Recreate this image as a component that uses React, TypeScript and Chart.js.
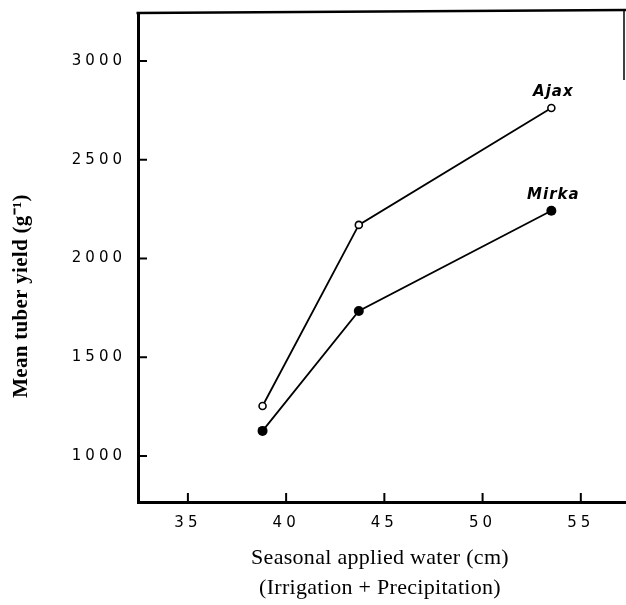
import { useEffect, useRef } from 'react';
import { Chart, registerables } from 'chart.js';

Chart.register(...registerables);

const waterCm = [38.8, 43.7, 53.5];
const ajaxYield = [1253, 2170, 2762];
const mirkaYield = [1127, 1734, 2242];
const xTicks = [35, 40, 45, 50, 55];
const yTicks = [1000, 1500, 2000, 2500, 3000];
const seriesNames = ['Ajax', 'Mirka'];
const xTitle = ['Seasonal applied water (cm)', '(Irrigation + Precipitation)'];
const yTitle = 'Mean tuber yield (g\u207B\u00B9)';

const spacingPlugin = {
  id: 'spacing',
  beforeDraw(chart: any) {
    chart.ctx.letterSpacing = '4px';
  },
  beforeDatasetsDraw(chart: any) {
    chart.ctx.letterSpacing = '0px';
  },
};

const decorPlugin = {
  id: 'decor',
  afterDraw(chart: any) {
    const ctx = chart.ctx;
    const { left, right, top, bottom } = chart.chartArea;
    const xs = chart.scales.x;
    const ys = chart.scales.y;
    ctx.save();
    ctx.letterSpacing = '0px';
    ctx.strokeStyle = '#000';
    ctx.lineCap = 'butt';
    // top frame
    ctx.lineWidth = 2.5;
    ctx.beginPath();
    ctx.moveTo(left - 1.5, top);
    ctx.lineTo(right, top - 3);
    ctx.stroke();
    // partial right frame
    ctx.lineWidth = 1.5;
    ctx.beginPath();
    ctx.moveTo(right - 2, top - 3);
    ctx.lineTo(right - 2, top + 67);
    ctx.stroke();
    // inward ticks
    ctx.lineWidth = 2;
    yTicks.forEach((v) => {
      const y = ys.getPixelForValue(v);
      ctx.beginPath();
      ctx.moveTo(left, y);
      ctx.lineTo(left + 9, y);
      ctx.stroke();
    });
    xTicks.forEach((v) => {
      const x = xs.getPixelForValue(v);
      ctx.beginPath();
      ctx.moveTo(x, bottom);
      ctx.lineTo(x, bottom - 9);
      ctx.stroke();
    });
    // series labels
    ctx.fillStyle = '#000';
    ctx.font = 'italic bold 15px "DejaVu Sans"';
    ctx.letterSpacing = '1px';
    ctx.textAlign = 'center';
    ctx.textBaseline = 'alphabetic';
    chart.data.datasets.forEach((ds: any, i: number) => {
      const meta = chart.getDatasetMeta(i);
      const el = meta.data[meta.data.length - 1];
      ctx.fillText(seriesNames[i], el.x + 2, el.y - 12);
    });
    // x title
    ctx.font = '22px "Liberation Serif"';
    ctx.letterSpacing = '0.3px';
    ctx.textBaseline = 'middle';
    const cx = (left + right) / 2 - 2;
    ctx.fillText(xTitle[0], cx, bottom + 56);
    ctx.fillText(xTitle[1], cx, bottom + 86);
    // y title
    ctx.font = 'bold 21px "Liberation Serif"';
    ctx.letterSpacing = '0.3px';
    ctx.translate(22, 296);
    ctx.rotate(-Math.PI / 2);
    ctx.fillText(yTitle, 0, 0);
    ctx.restore();
  },
};

export default function App() {
  const ref = useRef<HTMLCanvasElement | null>(null);
  useEffect(() => {
    const canvas = ref.current;
    if (!canvas) return;
    const chart = new Chart(canvas, {
      type: 'line',
      data: {
        datasets: [
          {
            label: seriesNames[0],
            data: waterCm.map((x, i) => ({ x, y: ajaxYield[i] })),
            borderColor: '#000',
            borderWidth: 1.8,
            pointRadius: 3.5,
            pointBorderWidth: 1.6,
            pointBackgroundColor: '#fff',
            pointBorderColor: '#000',
            tension: 0,
          },
          {
            label: seriesNames[1],
            data: waterCm.map((x, i) => ({ x, y: mirkaYield[i] })),
            borderColor: '#000',
            borderWidth: 1.8,
            pointRadius: 5,
            pointBorderWidth: 0,
            pointBackgroundColor: '#000',
            pointBorderColor: '#000',
            tension: 0,
          },
        ],
      },
      options: {
        animation: false,
        responsive: false,
        maintainAspectRatio: false,
        layout: { autoPadding: false, padding: { top: 13, right: 0, left: 0, bottom: 0 } },
        plugins: { legend: { display: false }, tooltip: { enabled: false } },
        scales: {
          x: {
            type: 'linear',
            min: 32.46,
            max: 57.3,
            afterBuildTicks: (s: any) => {
              s.ticks = xTicks.map((v) => ({ value: v }));
            },
            afterFit: (s: any) => {
              s.height = 103;
              s.paddingLeft = 0;
              s.paddingRight = 0;
            },
            grid: { display: true, drawOnChartArea: false, drawTicks: false },
            border: { display: true, color: '#000', width: 3 },
            ticks: {
              color: '#000',
              padding: 12,
              font: { family: '"DejaVu Sans"', size: 15 },
              maxRotation: 0,
              callback: (v: any) => String(v),
            },
          },
          y: {
            type: 'linear',
            min: 767,
            max: 3243,
            afterBuildTicks: (s: any) => {
              s.ticks = yTicks.map((v) => ({ value: v }));
            },
            afterFit: (s: any) => {
              s.width = 138;
              s.paddingTop = 0;
              s.paddingBottom = 0;
            },
            grid: { display: true, drawOnChartArea: false, drawTicks: false },
            border: { display: true, color: '#000', width: 3 },
            ticks: {
              color: '#000',
              padding: 12,
              font: { family: '"DejaVu Sans"', size: 15 },
              callback: (v: any) => String(v),
            },
          },
        },
      },
      plugins: [spacingPlugin, decorPlugin],
    } as any);
    return () => chart.destroy();
  }, []);
  return (
    <div style={{ position: 'fixed', left: 0, top: 0, width: 626, height: 605, background: '#fff' }}>
      <canvas ref={ref} width={626} height={605} style={{ display: 'block', width: 626, height: 605 }} />
    </div>
  );
}
